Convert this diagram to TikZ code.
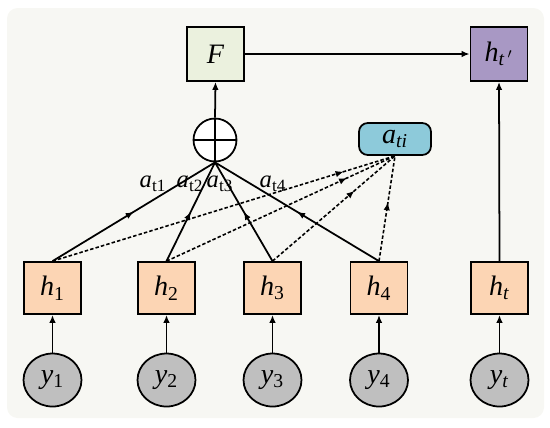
\documentclass[tikz,border=0pt]{standalone}
\usepackage{fontspec}
\setmainfont{Liberation Serif}
\usetikzlibrary{arrows.meta,shapes.geometric,decorations.markings}
\definecolor{panel}{HTML}{F7F7F3}
\definecolor{fbox}{HTML}{EBF1DE}
\definecolor{outbox}{HTML}{A898C4}
\definecolor{attn}{HTML}{8DCADA}
\definecolor{hidden}{HTML}{FCD5B4}
\definecolor{obs}{HTML}{BFBFBF}
\newcommand{\sym}[2]{\textit{#1}\textsubscript{#2}}

\tikzset{
  box/.style={draw,line width=1pt,minimum width=1.14cm,minimum height=1.04cm,inner sep=0pt,font=\fontsize{16}{18}\selectfont},
  obsnode/.style={ellipse,draw,line width=1pt,fill=obs,minimum width=1.16cm,minimum height=1.06cm,inner sep=0pt,font=\fontsize{16}{18}\selectfont},
  link/.style={line width=1pt,-{Latex[length=1.6mm,width=1.3mm]}},
  midarrow/.style={postaction={decorate},decoration={markings,mark=at position #1 with {\arrow{Latex[length=1.6mm,width=1.3mm]}}}},
  dotlink/.style={line width=.9pt,dash pattern=on 2pt off 1.2pt},
}

\begin{document}
\begin{tikzpicture}[x=.02cm,y=-.02cm]
  \useasboundingbox (0,0) rectangle (550,427);
  \fill[panel,rounded corners=6pt] (7,8) rectangle (544,418);
  % top row
  \node[box,fill=fbox,minimum height=1.08cm] (F) at (215.5,54) {\textit{F}};
  \node[box,fill=outbox,minimum height=1.08cm] (ho) at (499,54) {\sym{h}{\textit{t}\,$'$}};
  \node[circle,draw,line width=1pt,fill=white,minimum size=.86cm,inner sep=0pt] (sum) at (215,140) {};
  \draw[line width=1pt] (sum.north)--(sum.south) (sum.west)--(sum.east);
  \node[box,fill=attn,rounded corners=5pt,minimum width=1.44cm,minimum height=.64cm] (a) at (395,139) {\sym{a}{\textit{ti}}};
  % hidden states and inputs
  \foreach \x/\i/\s in {52.5/1/1,166.5/2/2,272.5/3/3,379/4/4,499.5/t/\textit{t}}{
    \node[box,fill=hidden] (h\i) at (\x,288) {\sym{h}{\s}};
    \node[obsnode] (y\i) at (\x,380) {\sym{y}{\s}};
    \draw[link] (y\i)--(h\i);
  }
  \foreach \i/\p in {1/.85,2/.79,3/.67,4/.56}{
    \draw[line width=1pt,midarrow=.5] (h\i.north)--(sum.south);
    \draw[dotlink,midarrow=\p] (h\i.north)--(a.south);
  }
  \foreach \j/\x in {1/153,2/190,3/220,4/273}{
    \node[font=\fontsize{14}{15}\selectfont,inner sep=0pt] (lab\j) at (\x,184) {\sym{a}{t\j}};
  }
  \draw[link] (sum.north)--(F.south);
  \draw[link] (F.east)--(ho.west);
  \draw[link] (ht.north)--(ho.south);
\end{tikzpicture}
\end{document}
